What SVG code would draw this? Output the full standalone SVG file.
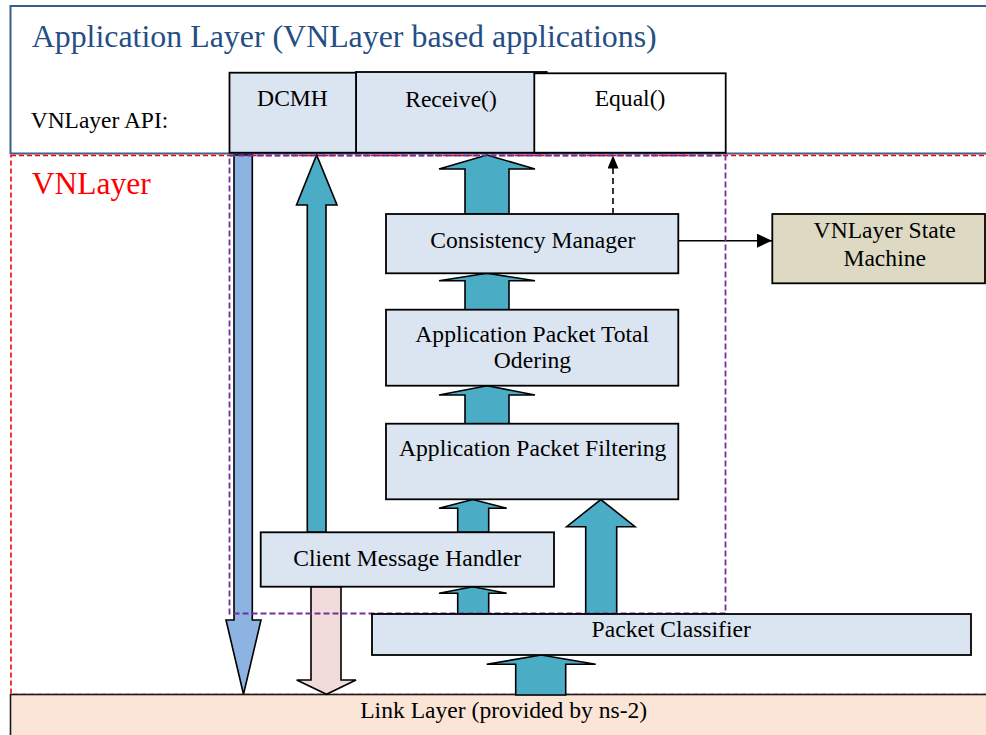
<svg xmlns="http://www.w3.org/2000/svg" width="986" height="735" viewBox="0 0 986 735">
<defs>
<style>
text{font-family:"Liberation Serif","Times New Roman",serif;fill:#000;}
.lbl{font-size:23.6px;text-anchor:middle;}
.box{fill:#dbe5f1;stroke:#000;stroke-width:1.8;}
.up{fill:#4bacc6;stroke:#000;stroke-width:1.6;stroke-linejoin:miter;}
</style>
<marker id="ah" viewBox="0 0 15 14" refX="15" refY="7" markerWidth="15" markerHeight="14" markerUnits="userSpaceOnUse" orient="auto">
<path d="M0,0 L15,7 L0,14 z" fill="#000" stroke="none"/>
</marker>
<marker id="ahs" viewBox="0 0 13 11" refX="13" refY="5.5" markerWidth="13" markerHeight="11" markerUnits="userSpaceOnUse" orient="auto">
<path d="M0,0 L13,5.5 L0,11 z" fill="#000" stroke="none"/>
</marker>
</defs>
<rect x="0" y="0" width="986" height="735" fill="#fff"/>

<g id="app-layer">
<rect x="10.5" y="6" width="990" height="147.5" fill="#fff" stroke="#3b5e8c" stroke-width="2"/>
<text x="31.7" y="47" font-size="32" fill="#1f497d" style="fill:#254e84" textLength="625" lengthAdjust="spacingAndGlyphs">Application Layer (VNLayer based applications)</text>
<text x="30.7" y="128.3" font-size="23.4" textLength="137.6" lengthAdjust="spacingAndGlyphs">VNLayer API:</text>
</g>

<g id="vnlayer">
<rect x="11" y="155.5" width="990" height="539" fill="none" stroke="#ff0000" stroke-width="1.6" stroke-dasharray="5,3"/>
<text x="31.7" y="194.3" font-size="31.5" style="fill:#ff0000">VNLayer</text>
</g>

<g id="link-layer">
<rect x="10.5" y="694.5" width="990" height="50" fill="#fbe5d6" stroke="#1a1a1a" stroke-width="1.6"/>
<text class="lbl" x="503.7" y="718.3">Link Layer (provided by ns-2)</text>
</g>

<g id="api-receive">
<rect x="356" y="72" width="190.7" height="80.7" class="box"/>
<text class="lbl" x="451" y="106.7">Receive()</text>
</g>
<g id="api-dcmh">
<rect x="229.5" y="72.7" width="126.5" height="80" class="box"/>
<text class="lbl" x="292.5" y="106">DCMH</text>
</g>
<g id="api-equal">
<rect x="534.3" y="73.3" width="191.4" height="79.4" fill="#fff" stroke="#000" stroke-width="1.8"/>
<text class="lbl" x="630" y="106">Equal()</text>
</g>

<g id="connectors">
<polygon class="up" points="465,214 465,169 439,169 487,155 535,169 509,169 509,214"/>
<polygon class="up" points="465,309.7 465,280.7 439,280.7 487,273.3 535,280.7 509,280.7 509,309.7"/>
<polygon class="up" points="465,423.7 465,395 439,395 487,385.7 535,395 509,395 509,423.7"/>
<polygon class="up" points="457.7,532.3 457.7,508.3 439,508.3 472.8,499.5 506.7,508.3 488.7,508.3 488.7,532.3"/>
<polygon class="up" points="457.7,614 457.7,593.3 439,593.3 472.8,586.7 506.7,593.3 488.7,593.3 488.7,614"/>
<polygon class="up" points="585.7,614 585.7,526.7 566.7,526.7 600.8,499.5 635,526.7 616.7,526.7 616.7,614"/>
<polygon class="up" points="515.7,695 515.7,664.3 486.7,664.3 541.2,655 595.7,664.3 565.7,664.3 565.7,695"/>
<polygon class="up" points="307.3,532.3 307.3,205 296.5,205 316.6,155 337,205 326,205 326,532.3"/>
<polygon points="234,155 252.3,155 252.3,620 261,620 243.5,694.3 226,620 234,620" fill="#8db3e2" stroke="#000" stroke-width="1.6"/>
<polygon points="311,586.7 341,586.7 341,680 356,680 326.5,694.3 296.7,680 311,680" fill="#f2dcdb" stroke="#000" stroke-width="1.6"/>
<path d="M679,240.7 H772" stroke="#000" stroke-width="1.6" fill="none" marker-end="url(#ah)"/>
<path d="M613,214 V155.5" stroke="#000" stroke-width="1.6" fill="none" stroke-dasharray="6,4" marker-end="url(#ahs)"/>
</g>

<g id="vnlayer-core">
<rect x="229.5" y="155.5" width="496" height="458" fill="none" stroke="#7030a0" stroke-width="1.8" stroke-dasharray="6,3"/>
</g>

<g id="consistency-manager">
<rect x="386" y="214" width="292.3" height="59.3" class="box"/>
<text class="lbl" x="532.8" y="247.5">Consistency Manager</text>
</g>
<g id="state-machine">
<rect x="772.3" y="214" width="212.7" height="69.3" fill="#ddd9c3" stroke="#000" stroke-width="1.8"/>
<text class="lbl" x="884.7" y="238.3">VNLayer State</text>
<text class="lbl" x="884.7" y="266">Machine</text>
</g>
<g id="total-ordering">
<rect x="386" y="309.7" width="292.3" height="76" class="box"/>
<text class="lbl" x="532.2" y="341.7">Application Packet Total</text>
<text class="lbl" x="532.5" y="368.3">Odering</text>
</g>
<g id="filtering">
<rect x="386" y="423.7" width="292.3" height="75.6" class="box"/>
<text class="lbl" x="532.7" y="456">Application Packet Filtering</text>
</g>
<g id="client-handler">
<rect x="260.7" y="532.3" width="293.3" height="54.4" class="box"/>
<text class="lbl" x="407.2" y="566">Client Message Handler</text>
</g>
<g id="packet-classifier">
<rect x="372" y="614" width="599" height="41" class="box"/>
<text class="lbl" x="671.2" y="636.7">Packet Classifier</text>
</g>
</svg>
